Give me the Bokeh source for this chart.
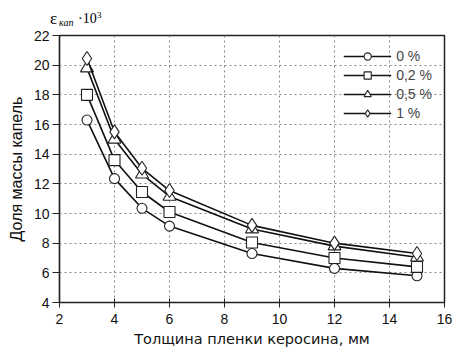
from bokeh.plotting import figure
from bokeh.layouts import column
from bokeh.models import Div, Legend, LegendItem, FixedTicker, Range1d
from bokeh.embed import file_html
from bokeh.resources import INLINE

thickness = [3, 4, 5, 6, 9, 12, 15]
s0 = [16.3, 12.35, 10.35, 9.15, 7.3, 6.3, 5.8]
s02 = [18.0, 13.6, 11.45, 10.1, 8.05, 7.0, 6.4]
s05 = [19.8, 15.0, 12.65, 11.15, 8.95, 7.8, 7.05]
s1 = [20.45, 15.5, 13.05, 11.55, 9.2, 8.0, 7.3]
labels = ["0 %", "0,2 %", "0,5 %", "1 %"]
x_ticks = [2, 4, 6, 8, 10, 12, 14, 16]
y_ticks = [4, 6, 8, 10, 12, 14, 16, 18, 20, 22]

# header strip holding the y-quantity label (epsilon_kap * 10^3)
sp = "position:absolute;white-space:nowrap;"
header_html = (
    '<div style="position:relative;width:454px;height:27px;'
    "font-family:'Liberation Serif',serif;color:#000;line-height:1;\">"
    f'<span style="{sp}left:50px;top:10px;font-size:17px;">ε</span>'
    f'<span style="{sp}left:59px;top:17.5px;font-size:10px;font-style:italic;">кап</span>'
    f'<span style="{sp}left:78px;top:12.3px;font-size:14px;">·10</span>'
    f'<span style="{sp}left:97px;top:10.5px;font-size:9px;">3</span>'
    "</div>"
)
h = Div(text=header_html, width=454, height=27, margin=0)

p = figure(width=454, height=322, output_backend="svg", toolbar_location=None,
           x_range=Range1d(2, 16), y_range=Range1d(4, 22),
           min_border_left=59, min_border_right=10, min_border_top=8, min_border_bottom=47)
p.background_fill_color = "white"
p.border_fill_color = "white"
p.outline_line_color = "#222222"
p.outline_line_width = 1.5

for ax in (p.xaxis[0], p.yaxis[0]):
    ax.axis_line_color = "#222222"
    ax.axis_line_width = 1.2
    ax.major_tick_line_color = "#222222"
    ax.major_tick_in = 4
    ax.major_tick_out = 5
    ax.minor_tick_line_color = None
    ax.major_label_text_font = "Liberation Sans"
    ax.major_label_text_font_size = "14px"
    ax.major_label_text_color = "#111111"
    ax.axis_label_text_font_style = "normal"
    ax.axis_label_text_color = "#111111"

p.yaxis.major_tick_in = 0
p.yaxis.major_tick_out = 7
p.xaxis.ticker = FixedTicker(ticks=x_ticks)
p.yaxis.ticker = FixedTicker(ticks=y_ticks)
p.xaxis.axis_label = "Толщина пленки керосина, мм"
p.xaxis.axis_label_text_font = "DejaVu Sans"
p.xaxis.axis_label_text_font_size = "14.5px"
p.xaxis.axis_label_standoff = 4
p.xaxis.major_label_standoff = 6
p.yaxis.axis_label = "Доля массы капель"
p.yaxis.axis_label_text_font = "Liberation Sans"
p.yaxis.axis_label_text_font_size = "16px"
p.yaxis.axis_label_standoff = 6
p.yaxis.major_label_standoff = 3

for g in (p.xgrid[0], p.ygrid[0]):
    g.grid_line_color = "#888888"
    g.grid_line_dash = "2 3"
    g.grid_line_width = 1

series = [s0, s02, s05, s1]
markers = ["circle", "square", "triangle", "diamond"]
sizes = [10, 11, 13, 14]
items = []
for ys, m, sz, lab in zip(series, markers, sizes, labels):
    r1 = p.line(thickness, ys, line_color="#111111", line_width=1.6)
    r2 = p.scatter(thickness, ys, marker=m, size=sz, fill_color="white",
                   line_color="#222222", line_width=1.1)
    items.append(LegendItem(label=lab, renderers=[r1, r2]))

legend = Legend(items=items, location="top_right", margin=12, padding=0,
                spacing=1, glyph_width=48, glyph_height=18, label_height=18,
                label_standoff=5, label_text_font="Liberation Sans",
                label_text_font_size="14px", background_fill_alpha=0,
                border_line_alpha=0)
p.add_layout(legend)

layout = column(h, p, spacing=0)
open("out.html", "w").write(file_html(layout, INLINE))
